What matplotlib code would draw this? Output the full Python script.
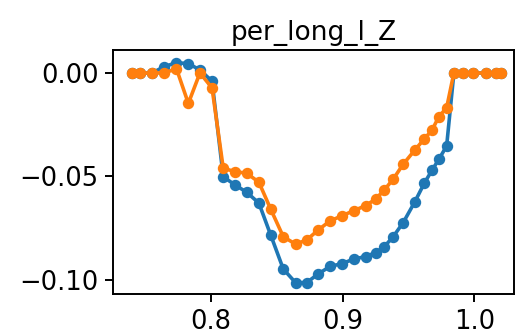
import matplotlib
matplotlib.use('Agg')
import matplotlib.pyplot as plt

# x positions (shared by both series)
x = [0.7398, 0.7461, 0.7552, 0.7643, 0.7738, 0.7828, 0.7916, 0.8008,
     0.8093, 0.8182, 0.8271, 0.8364, 0.8453, 0.8549, 0.8642, 0.8727,
     0.8812, 0.8904, 0.8995, 0.9086, 0.9175, 0.9251, 0.9317, 0.9384,
     0.9460, 0.9549, 0.9620, 0.9680, 0.9731, 0.9790, 0.9845, 0.9911,
     0.9992, 1.0088, 1.0164, 1.0200]

blue = [0.0, 0.0, 0.0, 0.003, 0.005, 0.0045, 0.0015, -0.004,
        -0.0501, -0.0541, -0.0576, -0.0629, -0.0782, -0.0947, -0.1013, -0.1013,
        -0.0972, -0.0935, -0.0921, -0.0899, -0.0887, -0.0868, -0.0839, -0.0791,
        -0.0723, -0.0622, -0.0533, -0.0469, -0.0417, -0.0353, 0.0, 0.0,
        0.0, 0.0, 0.0, 0.0]

orange = [0.0, 0.0, 0.0, 0.0, 0.002, -0.0147, 0.0, -0.0072,
          -0.0460, -0.0477, -0.0484, -0.0528, -0.0657, -0.0791, -0.0827, -0.0807,
          -0.0760, -0.0715, -0.0690, -0.0665, -0.0641, -0.0609, -0.0565, -0.0513,
          -0.0441, -0.0372, -0.0319, -0.0275, -0.0211, -0.0168, 0.0, 0.0,
          0.0, 0.0, 0.0, 0.0]

title = 'per_long_l_Z'

fig = plt.figure(figsize=(5.15, 3.33), dpi=100)
ax = fig.add_axes([113.3 / 515, 39 / 333, 401 / 515, 244 / 333])

ax.plot(x, blue, '-o', color='#1f77b4', lw=2.6, ms=7.2)
ax.plot(x, orange, '-o', color='#ff7f0e', lw=2.6, ms=7.2)

ax.set_xlim(0.7258, 1.0304)
ax.set_ylim(-0.1068, 0.0111)
ax.set_xticks([0.8, 0.9, 1.0])
ax.set_yticks([0.0, -0.05, -0.10])
ax.set_yticklabels(['0.00', '\u22120.05', '\u22120.10'])

ax.tick_params(labelsize=18.5, length=5.5, width=1.4, pad=5)
for s in ax.spines.values():
    s.set_linewidth(1.4)
ax.set_title(title, fontsize=19, pad=7)

fig.savefig('out.png', dpi=100)
